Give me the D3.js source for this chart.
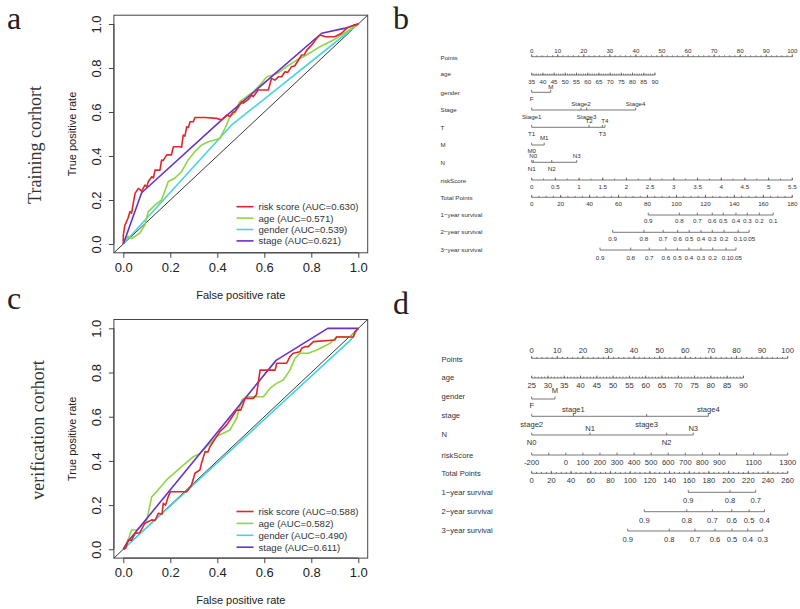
<!DOCTYPE html>
<html><head><meta charset="utf-8">
<script src="https://cdn.jsdelivr.net/npm/d3@7/dist/d3.min.js"></script>
<style>body{margin:0;background:#fff}svg{display:block}</style></head>
<body><svg id="fig" width="800" height="609"></svg>
<script>
// ---------------- DATA ----------------
const rocNames = ["risk score", "age", "gender", "stage"];
const trainAUC = ["0.630", "0.571", "0.539", "0.621"];
const verifAUC = ["0.588", "0.582", "0.490", "0.611"];
const rocTicks = [0, 0.2, 0.4, 0.6, 0.8, 1.0];

// training cohort ROC points [fpr, tpr]
const trainRisk = [[0,0],[0,0.04],[0.007,0.086],[0.02,0.117],[0.028,0.147],[0.035,0.14],[0.05,0.23],[0.064,0.253],[0.078,0.24],[0.092,0.268],[0.1,0.26],[0.106,0.283],[0.121,0.306],[0.128,0.3],[0.135,0.336],[0.156,0.336],[0.163,0.382],[0.17,0.38],[0.185,0.405],[0.205,0.405],[0.213,0.442],[0.241,0.442],[0.248,0.44],[0.255,0.495],[0.262,0.49],[0.27,0.533],[0.277,0.53],[0.284,0.556],[0.298,0.556],[0.305,0.575],[0.348,0.575],[0.397,0.571],[0.419,0.564],[0.44,0.586],[0.454,0.58],[0.468,0.6],[0.475,0.6],[0.49,0.624],[0.504,0.647],[0.51,0.64],[0.53,0.655],[0.546,0.677],[0.553,0.67],[0.574,0.7],[0.596,0.7],[0.617,0.7],[0.631,0.753],[0.645,0.745],[0.66,0.76],[0.674,0.76],[0.688,0.783],[0.7,0.78],[0.716,0.806],[0.73,0.81],[0.759,0.859],[0.77,0.86],[0.78,0.88],[0.802,0.905],[0.823,0.935],[0.837,0.95],[0.86,0.942],[0.9,0.942],[0.929,0.958],[0.95,0.98],[0.98,0.995],[1,1]];
const trainAge = [[0,0],[0.01,0.02],[0.02,0.035],[0.035,0.025],[0.05,0.035],[0.07,0.05],[0.092,0.086],[0.106,0.147],[0.135,0.177],[0.163,0.2],[0.191,0.283],[0.22,0.3],[0.248,0.329],[0.276,0.382],[0.305,0.42],[0.333,0.45],[0.362,0.465],[0.39,0.473],[0.411,0.48],[0.433,0.526],[0.454,0.579],[0.47,0.59],[0.496,0.647],[0.525,0.67],[0.553,0.692],[0.582,0.723],[0.61,0.76],[0.638,0.768],[0.667,0.783],[0.695,0.806],[0.738,0.836],[0.78,0.859],[0.837,0.897],[0.894,0.927],[0.95,0.965],[1,1]];
const trainGender = [[0,0],[0.46,0.54],[1,1]];
const trainStage = [[0,0],[0.078,0.233],[0.42,0.565],[0.844,0.958],[0.94,0.98],[1,1]];

// verification cohort ROC points [fpr, tpr]
const verifRisk = [[0,0],[0.01,0.005],[0.021,0.042],[0.035,0.04],[0.05,0.072],[0.07,0.075],[0.092,0.118],[0.121,0.133],[0.135,0.13],[0.149,0.163],[0.165,0.16],[0.17,0.208],[0.18,0.2],[0.191,0.238],[0.2,0.26],[0.27,0.26],[0.29,0.29],[0.305,0.344],[0.326,0.359],[0.333,0.39],[0.348,0.442],[0.36,0.44],[0.369,0.465],[0.383,0.487],[0.397,0.51],[0.411,0.532],[0.426,0.548],[0.44,0.563],[0.454,0.585],[0.468,0.607],[0.482,0.63],[0.5,0.63],[0.511,0.66],[0.518,0.683],[0.553,0.683],[0.567,0.7],[0.582,0.811],[0.646,0.811],[0.653,0.842],[0.695,0.842],[0.709,0.872],[0.723,0.887],[0.752,0.894],[0.759,0.91],[0.773,0.917],[0.787,0.917],[0.809,0.94],[0.9,0.947],[0.908,0.961],[0.979,0.961],[0.986,0.985],[1,1]];
const verifAge = [[0,0],[0.02,0.04],[0.035,0.087],[0.057,0.087],[0.07,0.1],[0.1,0.133],[0.121,0.238],[0.142,0.261],[0.184,0.314],[0.241,0.367],[0.298,0.419],[0.326,0.434],[0.355,0.465],[0.397,0.51],[0.454,0.54],[0.482,0.593],[0.504,0.676],[0.525,0.69],[0.596,0.69],[0.624,0.728],[0.652,0.751],[0.681,0.766],[0.709,0.811],[0.73,0.864],[0.752,0.887],[0.787,0.887],[0.823,0.902],[0.851,0.917],[0.879,0.932],[0.908,0.962],[0.965,0.962],[1,1]];
const verifGender = [[0,0],[0.97,0.95],[1,1]];
const verifStage = [[0,0],[0.02,0.035],[0.65,0.855],[0.87,1],[1,1]];

// nomogram b (training)
const bPointsTicks = [0,10,20,30,40,50,60,70,80,90,100];
const bAgeTicks = [35,40,45,50,55,60,65,70,75,80,85,90];
const bAgeRange = [35, 90], bAgePts = [0, 47.3];
const bGenderLab = ["F","M"], bGenderPts = [0, 7.3];
const bStageLab = ["Stage1","Stage2","Stage3","Stage4"], bStagePts = [0, 18.9, 21.1, 39.9];
const bTLab = ["T1","T2","T3","T4"], bTPts = [0, 22, 27.1, 28.1];
const bMLab = ["M0","M1"], bMPts = [0, 4.8];
const bNLab = ["N1","N0","N2","N3"], bNPts = [0, 0.6, 7.7, 17.3];
const bRiskTicks = [0,0.5,1,1.5,2,2.5,3,3.5,4,4.5,5,5.5];
const bRiskRange = [0, 5.5];
const bTotalTicks = [0,20,40,60,80,100,120,140,160,180];
const bSurvLab1 = ["0.9","0.8","0.7","0.6","0.5","0.4","0.3","0.2","0.1"];
const bSurvTot1 = [80.5,102,114.4,124.7,132.3,141.1,148.9,157.2,166.8];
const bSurvLab2 = ["0.9","0.8","0.7","0.6","0.5","0.4","0.3","0.2","0.1","0.05"];
const bSurvTot2 = [55.9,77.5,90.8,100.8,108.8,116.9,124.7,132.9,142.6,150.2];
const bSurvLab3 = ["0.9","0.8","0.7","0.6","0.5","0.4","0.3","0.2","0.1","0.05"];
const bSurvTot3 = [47.2,68.4,81.2,92.7,100.6,108.6,116.9,125,134.2,141.1];

// nomogram d (verification)
const dPointsTicks = [0,10,20,30,40,50,60,70,80,90,100];
const dAgeTicks = [25,30,35,40,45,50,55,60,65,70,75,80,85,90];
const dAgeRange = [25, 90], dAgePts = [0, 82.7];
const dGenderLab = ["F","M"], dGenderPts = [0, 9.1];
const dStageLab = ["stage2","stage1","stage3","stage4"], dStagePts = [0, 16.3, 44.9, 69];
const dNLab = ["N0","N1","N2","N3"], dNPts = [0, 22.8, 52.7, 63.1];
const dRiskTicks = [-200,-100,0,100,200,300,400,500,600,700,800,900,1000,1100,1200,1300];
const dRiskLabels = [-200,0,100,200,300,400,500,600,700,800,900,1100,1300];
const dRiskRange = [-200, 1300];
const dTotalTicks = [0,20,40,60,80,100,120,140,160,180,200,220,240,260];
const dSurvLab1 = ["0.9","0.8","0.7"];
const dSurvTot1 = [159,201.4,227.5];
const dSurvLab2 = ["0.9","0.8","0.7","0.6","0.5","0.4"];
const dSurvTot2 = [114.4,157.5,183.5,203.2,220.8,236.4];
const dSurvLab3 = ["0.9","0.8","0.7","0.6","0.5","0.4","0.3"];
const dSurvTot3 = [97.5,139.7,165.8,186.2,203.4,219.4,234.6];

// ---------------- DRAW ----------------
const svg = d3.select("#fig");
const SANS = "'Liberation Sans', Arial, sans-serif";
const SERIF = "'Liberation Serif', 'Times New Roman', serif";
const colors = ["#e2252b", "#8fd545", "#46d3e2", "#6a30c8"];

function drawROC(cfg) {
  const g = svg.append("g");
  const x = d3.scaleLinear([-0.04, 1.04], [113.9, 367.7]);
  const y = d3.scaleLinear([-0.04, 1.04], [cfg.bottom, cfg.top]);
  g.append("line").attr("x1", x(-0.04)).attr("y1", y(-0.04)).attr("x2", x(1.04)).attr("y2", y(1.04))
    .attr("stroke", "#222").attr("stroke-width", 0.9);
  const line = d3.line().x(d => x(d[0])).y(d => y(d[1]));
  const order = [2, 1, 3, 0];
  order.forEach(i => {
    g.append("path").datum(cfg.series[i]).attr("d", line).attr("fill", "none")
      .attr("stroke", colors[i]).attr("stroke-width", 1.6).attr("stroke-linejoin", "round");
  });
  g.append("rect").attr("x", x(-0.04)).attr("y", y(1.04)).attr("width", x(1.04) - x(-0.04))
    .attr("height", y(-0.04) - y(1.04)).attr("fill", "none").attr("stroke", "#444").attr("stroke-width", 1);
  const ax = g.append("g").attr("transform", `translate(0,${y(-0.04)})`)
    .call(d3.axisBottom(x).tickValues(rocTicks).tickFormat(d3.format(".1f")).tickSize(5).tickSizeOuter(0).tickPadding(5));
  ax.select(".domain").attr("d", `M${x(0)},0H${x(1)}`).attr("stroke", "#444");
  ax.selectAll("line").attr("stroke", "#444");
  ax.selectAll("text").attr("font-family", SANS).attr("font-size", 13).attr("fill", "#222");
  const ay = g.append("g").attr("transform", `translate(${x(-0.04)},0)`)
    .call(d3.axisLeft(y).tickValues(rocTicks).tickFormat(d3.format(".1f")).tickSize(5).tickSizeOuter(0));
  ay.select(".domain").attr("d", `M0,${y(0)}V${y(1)}`).attr("stroke", "#444");
  ay.selectAll("line").attr("stroke", "#444");
  ay.selectAll("text").attr("x", null).attr("dy", null)
    .attr("transform", "translate(-13,0) rotate(-90)").attr("text-anchor", "middle")
    .attr("font-family", SANS).attr("font-size", 13).attr("fill", "#222");
  g.append("text").attr("x", (x(0) + x(1)) / 2).attr("y", y(-0.04) + 46).attr("text-anchor", "middle")
    .attr("font-family", SANS).attr("font-size", 11).attr("fill", "#222").text("False positive rate");
  g.append("text").attr("transform", `translate(76,${(y(0) + y(1)) / 2}) rotate(-90)`).attr("text-anchor", "middle")
    .attr("font-family", SANS).attr("font-size", 11).attr("fill", "#222").text("True positive rate");
  g.append("text").attr("transform", `translate(${cfg.titleX},${cfg.titleY}) rotate(-90)`).attr("text-anchor", "middle")
    .attr("font-family", SERIF).attr("font-size", 18).attr("fill", "#333").text(cfg.title);
  cfg.auc.forEach((a, i) => {
    const ly = cfg.legendY + i * cfg.legendStep;
    g.append("line").attr("x1", 236.5).attr("x2", 253.5).attr("y1", ly).attr("y2", ly)
      .attr("stroke", colors[i]).attr("stroke-width", 1.6);
    g.append("text").attr("x", 258.5).attr("y", ly + 3.4).attr("font-family", SANS).attr("font-size", 9.6)
      .attr("fill", "#333").text(`${rocNames[i]} (AUC=${a})`);
  });
}

drawROC({ top: 15.2, bottom: 252.8, series: [trainRisk, trainAge, trainGender, trainStage], auc: trainAUC,
  title: "Training corhort", titleX: 41, titleY: 145, legendY: 206.7, legendStep: 11.4 });
drawROC({ top: 319.5, bottom: 558.1, series: [verifRisk, verifAge, verifGender, verifStage], auc: verifAUC,
  title: "verification corhort", titleX: 44, titleY: 430, legendY: 511.5, legendStep: 11.9 });

// panel letters
[["a", 7, 29], ["b", 393, 29], ["c", 7, 309], ["d", 393, 314]].forEach(([t, lx, ly]) => {
  svg.append("text").attr("x", lx).attr("y", ly).attr("font-family", SERIF).attr("font-size", 32)
    .attr("fill", "#222").text(t);
});

// ---------------- NOMOGRAMS ----------------
function nomogram(cfg) {
  const g = svg.append("g");
  const fs = cfg.fs;
  const px = d3.scaleLinear([0, 100], cfg.xr);
  const tx = d3.scaleLinear([0, cfg.totalMax], cfg.xr);
  const stroke = "#555";
  function seg(x1, x2, y) {
    g.append("line").attr("x1", x1).attr("x2", x2).attr("y1", y).attr("y2", y).attr("stroke", stroke).attr("stroke-width", 0.8);
  }
  function tick(xv, y, len) {
    g.append("line").attr("x1", xv).attr("x2", xv).attr("y1", y).attr("y2", y + len).attr("stroke", stroke).attr("stroke-width", 0.8);
  }
  function txt(xv, yc, s, anchor) {
    g.append("text").attr("x", xv).attr("y", yc + fs * 0.36).attr("text-anchor", anchor || "middle")
      .attr("font-family", SANS).attr("font-size", fs).attr("fill", "#333").text(s);
  }
  function rowLabel(y, s) { txt(cfg.labelX, y, s, "start"); }
  function contAxis(scale, ticks, labels, y, labY, minor) {
    seg(scale(ticks[0]), scale(ticks[ticks.length - 1]), y);
    if (minor) minor.forEach(v => tick(scale(v), y, -1.4));
    ticks.forEach(v => tick(scale(v), y, -2.4));
    labels.forEach(v => txt(scale(v), labY, String(v)));
  }
  function catAxis(labs, pts, y, places, offA, offB) {
    const xs = pts.map(px);
    seg(d3.min(xs), d3.max(xs), y);
    xs.forEach((xv, i) => {
      tick(xv, y, -2.4);
      txt(xv, places[i] === "a" ? y + offA : y + offB, labs[i]);
    });
  }
  function survAxis(labs, tots, y, labOff) {
    const xs = tots.map(tx);
    seg(d3.min(xs), d3.max(xs), y);
    xs.forEach((xv, i) => { tick(xv, y, -2.4); txt(xv, y + labOff, labs[i]); });
  }
  cfg.draw({ px, tx, contAxis, catAxis, survAxis, rowLabel });
}

// panel b
nomogram({ fs: 6.2, labelX: 440.5, xr: [531.7, 792.3], totalMax: 180, draw: (h) => {
  const { px, tx, contAxis, catAxis, survAxis, rowLabel } = h;
  rowLabel(57.3, "Points");
  contAxis(px, bPointsTicks, bPointsTicks, 56.7, 50.7, d3.range(0, 101, 2));
  rowLabel(73.3, "age");
  const ageS = v => px(d3.scaleLinear(bAgeRange, bAgePts)(v));
  contAxis(ageS, bAgeTicks, bAgeTicks, 75, 81.7, d3.range(35, 91, 1));
  rowLabel(92.3, "gender");
  catAxis(bGenderLab, bGenderPts, 92.3, ["b", "a"], -5.6, 6);
  rowLabel(109.3, "Stage");
  catAxis(bStageLab, bStagePts, 110, ["b", "a", "b", "a"], -6, 7);
  rowLabel(127.3, "T");
  catAxis(bTLab, bTPts, 127.3, ["b", "a", "b", "a"], -6.3, 6);
  rowLabel(145, "M");
  catAxis(bMLab, bMPts, 145, ["b", "a"], -7, 6.2);
  rowLabel(162.3, "N");
  catAxis(bNLab, bNPts, 162.3, ["b", "a", "b", "a"], -6.5, 6.7);
  rowLabel(180.7, "riskScore");
  const riskS = v => px(d3.scaleLinear(bRiskRange, [0, 100])(v));
  contAxis(riskS, bRiskTicks, bRiskTicks, 180, 186.7, d3.range(0, 5.51, 0.25));
  rowLabel(197.7, "Total Points");
  contAxis(tx, bTotalTicks, bTotalTicks, 197.3, 203.3, d3.range(0, 181, 5));
  rowLabel(214.3, "1\u2212year survival");
  survAxis(bSurvLab1, bSurvTot1, 215, 6);
  rowLabel(231.7, "2\u2212year survival");
  survAxis(bSurvLab2, bSurvTot2, 232.3, 6.7);
  rowLabel(249.3, "3\u2212year survival");
  survAxis(bSurvLab3, bSurvTot3, 250, 7.3);
}});

// panel d
nomogram({ fs: 7.6, labelX: 441.5, xr: [531.7, 787.7], totalMax: 260, draw: (h) => {
  const { px, tx, contAxis, catAxis, survAxis, rowLabel } = h;
  rowLabel(359.3, "Points");
  contAxis(px, dPointsTicks, dPointsTicks, 358.3, 350.7, d3.range(0, 101, 2));
  rowLabel(377.7, "age");
  const ageS = v => px(d3.scaleLinear(dAgeRange, dAgePts)(v));
  contAxis(ageS, dAgeTicks, dAgeTicks, 378, 385.5, d3.range(25, 91, 1));
  rowLabel(396.7, "gender");
  catAxis(dGenderLab, dGenderPts, 399, ["b", "a"], -9, 6.5);
  rowLabel(415.7, "stage");
  catAxis(dStageLab, dStagePts, 416.3, ["b", "a", "b", "a"], -7.3, 8.3);
  rowLabel(434.3, "N");
  catAxis(dNLab, dNPts, 435, ["b", "a", "b", "a"], -7, 7.7);
  rowLabel(455, "riskScore");
  const riskS = v => px(d3.scaleLinear(dRiskRange, [0, 100])(v));
  contAxis(riskS, dRiskTicks, dRiskLabels, 455, 462.3, null);
  rowLabel(473.3, "Total Points");
  contAxis(tx, dTotalTicks, dTotalTicks, 473.3, 480.7, d3.range(0, 261, 5));
  rowLabel(492.3, "1\u2212year survival");
  survAxis(dSurvLab1, dSurvTot1, 492.3, 8.4);
  rowLabel(511.7, "2\u2212year survival");
  survAxis(dSurvLab2, dSurvTot2, 511.7, 8.3);
  rowLabel(530.7, "3\u2212year survival");
  survAxis(dSurvLab3, dSurvTot3, 531, 8);
}});
</script></body></html>
